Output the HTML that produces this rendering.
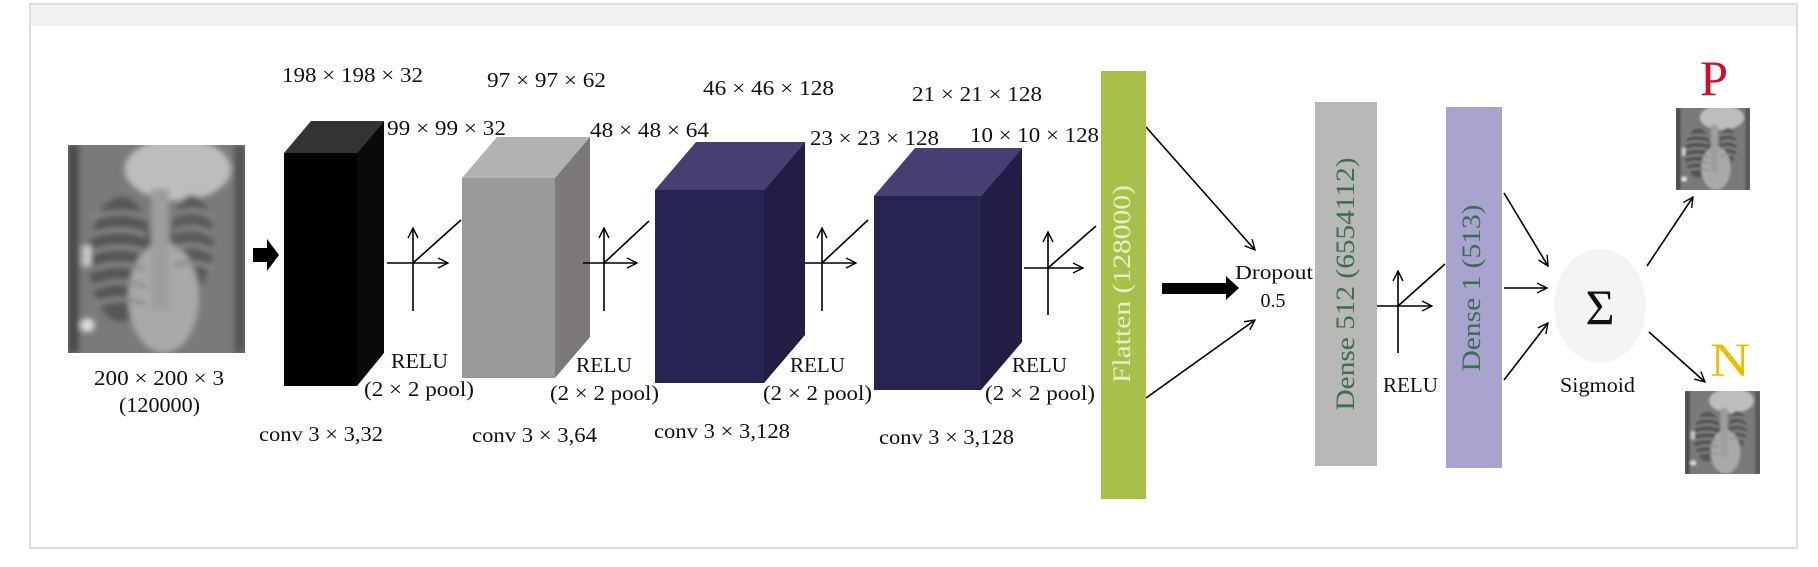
<!DOCTYPE html>
<html><head><meta charset="utf-8"><style>
html,body{margin:0;padding:0;background:#fff;}
svg{display:block;}
text{font-family:"Liberation Serif",serif;fill:#111;}
</style></head><body>
<svg width="1818" height="567" viewBox="0 0 1818 567">
<defs>
<marker id="ah" viewBox="0 0 12 12" refX="11" refY="6" markerWidth="12" markerHeight="12" markerUnits="userSpaceOnUse" orient="auto">
<polyline points="1,1 11,6 1,11" fill="none" stroke="#000" stroke-width="1.4"/>
</marker>
<filter id="soft" x="0" y="0" width="100%" height="100%"><feGaussianBlur stdDeviation="1.6"/></filter>
<symbol id="xray" viewBox="0 0 100 120" preserveAspectRatio="none">
<rect x="0" y="0" width="100" height="120" fill="#7a7a7a"/>
<g filter="url(#soft)">
<rect x="0" y="0" width="6" height="120" fill="#4a4a4a"/>
<rect x="94" y="0" width="6" height="120" fill="#555"/>
<ellipse cx="62" cy="14" rx="30" ry="18" fill="#bdbdbd"/>
<ellipse cx="30" cy="66" rx="18" ry="36" fill="#575757"/>
<ellipse cx="70" cy="56" rx="12" ry="27" fill="#5a5a5a"/>
<ellipse cx="54" cy="88" rx="20" ry="32" fill="#a9a9a9"/>
<rect x="47" y="25" width="10" height="70" fill="#9e9e9e"/>
<g stroke="#8c8c8c" stroke-width="2.4" fill="none">
<path d="M14 42 Q30 36 44 42"/><path d="M13 52 Q30 46 44 52"/><path d="M13 62 Q30 56 44 62"/><path d="M13 72 Q30 66 44 72"/><path d="M14 82 Q30 76 44 82"/><path d="M15 92 Q30 86 44 92"/>
<path d="M60 40 Q72 35 82 42"/><path d="M60 50 Q72 45 82 52"/><path d="M60 60 Q72 55 82 62"/><path d="M60 70 Q72 65 82 72"/>
</g>
<circle cx="11" cy="104" r="4" fill="#ddd"/><rect x="8" y="58" width="5" height="12" fill="#ccc"/>
</g>
</symbol>
</defs>

<rect x="30" y="4" width="1767" height="544" fill="#fff" stroke="#dedede" stroke-width="2"/>
<rect x="31" y="5" width="1765" height="21" fill="#f1f1f1"/>

<svg x="68" y="145" width="177" height="208"><use href="#xray" width="177" height="208"/></svg>
<text x="94" y="385" textLength="130" lengthAdjust="spacingAndGlyphs" font-size="21">200 × 200 × 3</text>
<text x="119" y="412" textLength="81" lengthAdjust="spacingAndGlyphs" font-size="21">(120000)</text>

<polygon points="253,248 267,248 267,239 279,255 267,271 267,262 253,262" fill="#000"/>

<g>
<polygon points="284,153 311,121 384,121 357,153" fill="#333"/>
<polygon points="357,153 384,121 384,353 357,386" fill="#0a0a0a"/>
<rect x="284" y="153" width="73" height="233" fill="#000"/>
</g>
<g>
<polygon points="462,178 497,137 590,137 555,178" fill="#b2b2b2"/>
<polygon points="555,178 590,137 590,337 555,378" fill="#7b7877"/>
<rect x="462" y="178" width="93" height="200" fill="#999999"/>
</g>
<g>
<polygon points="655,190 696,142 805,142 764,190" fill="#453f74"/>
<polygon points="764,190 805,142 805,335 764,383" fill="#211d45"/>
<rect x="655" y="190" width="109" height="193" fill="#272452"/>
</g>
<g>
<polygon points="874,196 915,148 1022,148 981,196" fill="#453f74"/>
<polygon points="981,196 1022,148 1022,342 981,390" fill="#211d45"/>
<rect x="874" y="196" width="107" height="194" fill="#272452"/>
</g>

<g font-size="21">
<text x="282" y="82" textLength="141" lengthAdjust="spacingAndGlyphs">198 × 198 × 32</text>
<text x="487" y="87" textLength="119" lengthAdjust="spacingAndGlyphs">97 × 97 × 62</text>
<text x="703" y="95" textLength="131" lengthAdjust="spacingAndGlyphs">46 × 46 × 128</text>
<text x="912" y="101" textLength="130" lengthAdjust="spacingAndGlyphs">21 × 21 × 128</text>
<text x="387" y="135" textLength="119" lengthAdjust="spacingAndGlyphs">99 × 99 × 32</text>
<text x="590" y="137" textLength="119" lengthAdjust="spacingAndGlyphs">48 × 48 × 64</text>
<text x="810" y="145" textLength="129" lengthAdjust="spacingAndGlyphs">23 × 23 × 128</text>
<text x="970" y="142" textLength="129" lengthAdjust="spacingAndGlyphs">10 × 10 × 128</text>

<text x="391" y="368" textLength="57" lengthAdjust="spacingAndGlyphs">RELU</text>
<text x="364" y="396" textLength="110" lengthAdjust="spacingAndGlyphs">(2 × 2 pool)</text>
<text x="576" y="372" textLength="56" lengthAdjust="spacingAndGlyphs">RELU</text>
<text x="550" y="400" textLength="109" lengthAdjust="spacingAndGlyphs">(2 × 2 pool)</text>
<text x="790" y="372" textLength="55" lengthAdjust="spacingAndGlyphs">RELU</text>
<text x="763" y="400" textLength="109" lengthAdjust="spacingAndGlyphs">(2 × 2 pool)</text>
<text x="1012" y="372" textLength="55" lengthAdjust="spacingAndGlyphs">RELU</text>
<text x="985" y="400" textLength="110" lengthAdjust="spacingAndGlyphs">(2 × 2 pool)</text>

<text x="259" y="441" textLength="124" lengthAdjust="spacingAndGlyphs">conv 3 × 3,32</text>
<text x="472" y="442" textLength="125" lengthAdjust="spacingAndGlyphs">conv 3 × 3,64</text>
<text x="654" y="438" textLength="136" lengthAdjust="spacingAndGlyphs">conv 3 × 3,128</text>
<text x="879" y="444" textLength="135" lengthAdjust="spacingAndGlyphs">conv 3 × 3,128</text>
</g>

<g stroke="#000" stroke-width="1.6" fill="none">
<g>
<line x1="387" y1="263" x2="448" y2="263" marker-end="url(#ah)"/><line x1="413" y1="311" x2="413" y2="228" marker-end="url(#ah)"/><line x1="413" y1="263" x2="461" y2="220"/></g>
<g>
<line x1="583" y1="263" x2="637" y2="263" marker-end="url(#ah)"/><line x1="604" y1="311" x2="604" y2="228" marker-end="url(#ah)"/><line x1="604" y1="263" x2="649" y2="221"/></g>
<g>
<line x1="805" y1="263" x2="856" y2="263" marker-end="url(#ah)"/><line x1="822" y1="311" x2="822" y2="228" marker-end="url(#ah)"/><line x1="822" y1="263" x2="868" y2="220"/></g>
<g>
<line x1="1024" y1="268" x2="1083" y2="268" marker-end="url(#ah)"/><line x1="1048" y1="315" x2="1048" y2="232" marker-end="url(#ah)"/><line x1="1048" y1="268" x2="1096" y2="226"/></g>
<g>
<line x1="1377" y1="306" x2="1432" y2="306" marker-end="url(#ah)"/><line x1="1398" y1="353" x2="1398" y2="271" marker-end="url(#ah)"/><line x1="1398" y1="306" x2="1445" y2="264"/></g>
<line x1="1146" y1="127" x2="1255" y2="250" marker-end="url(#ah)"/>
<line x1="1146" y1="398" x2="1255" y2="320" marker-end="url(#ah)"/>
<line x1="1504" y1="193" x2="1548" y2="266" marker-end="url(#ah)"/>
<line x1="1504" y1="288" x2="1547" y2="288" marker-end="url(#ah)"/>
<line x1="1504" y1="380" x2="1548" y2="323" marker-end="url(#ah)"/>
<line x1="1647" y1="266" x2="1693" y2="197" marker-end="url(#ah)"/>
<line x1="1649" y1="332" x2="1705" y2="382" marker-end="url(#ah)"/>
</g>

<rect x="1101" y="71" width="45" height="428" fill="#a8c04a"/>
<text transform="translate(1130,284) rotate(-90)" text-anchor="middle" font-size="25" textLength="198" lengthAdjust="spacingAndGlyphs" style="fill:#e6efc8">Flatten (128000)</text>

<polygon points="1162,283 1226,283 1226,276 1239,288 1226,300 1226,294 1162,294" fill="#000"/>
<text x="1235" y="279" font-size="20" textLength="78" lengthAdjust="spacingAndGlyphs">Dropout</text>
<text x="1273" y="307" font-size="20" text-anchor="middle">0.5</text>

<rect x="1315" y="102" width="62" height="364" fill="#b8b8b7"/>
<text transform="translate(1354,284) rotate(-90)" text-anchor="middle" font-size="26" textLength="253" lengthAdjust="spacingAndGlyphs" style="fill:#3d6b55">Dense 512 (6554112)</text>
<text x="1383" y="392" font-size="21" textLength="55" lengthAdjust="spacingAndGlyphs">RELU</text>

<rect x="1446" y="107" width="56" height="361" fill="#a9a3cf"/>
<text transform="translate(1480,288) rotate(-90)" text-anchor="middle" font-size="26" textLength="167" lengthAdjust="spacingAndGlyphs" style="fill:#3d6b55">Dense 1 (513)</text>

<ellipse cx="1600" cy="306" rx="46" ry="57" fill="#f4f4f4"/>
<text x="1600" y="324" font-size="50" text-anchor="middle">Σ</text>
<text x="1560" y="392" font-size="21" textLength="75" lengthAdjust="spacingAndGlyphs">Sigmoid</text>

<text x="1700" y="95" font-size="50" textLength="28" lengthAdjust="spacingAndGlyphs" style="fill:#c8102e">P</text>
<svg x="1676" y="108" width="74" height="82"><use href="#xray" width="74" height="82"/></svg>
<text x="1710" y="376" font-size="48" textLength="40" lengthAdjust="spacingAndGlyphs" style="fill:#e8c000">N</text>
<svg x="1685" y="391" width="75" height="83"><use href="#xray" width="75" height="83"/></svg>
</svg>
</body></html>
